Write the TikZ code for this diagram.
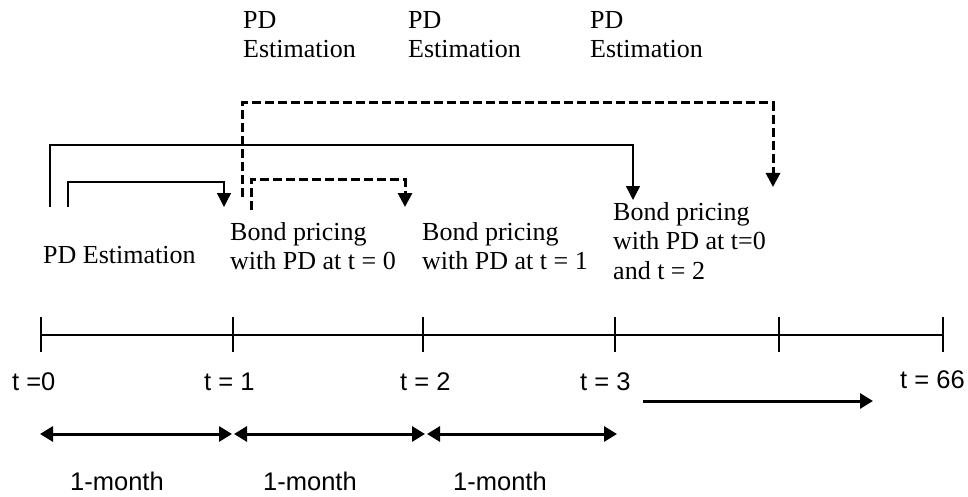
\documentclass[tikz,border=0pt]{standalone}
\usepackage{fontspec}
\setmainfont{Liberation Serif}
\setsansfont{Liberation Sans}
\usetikzlibrary{arrows.meta,calc}
\begin{document}
\begin{tikzpicture}[x=1pt,y=-1pt,
  serif/.style={font=\fontsize{26}{29.5}\selectfont, inner sep=0pt, align=left},
  sans/.style={font=\sffamily\fontsize{25.5}{28}\selectfont, inner sep=0pt},
  axisline/.style={line width=1.4pt},
  flow/.style={line width=1.4pt,-{Triangle[width=14pt,length=14pt]}},
  dflow/.style={line width=3pt,dash pattern=on 9pt off 4pt,-{Triangle[width=14pt,length=14pt]}},
  span/.style={line width=3pt,{Triangle[width=15pt,length=13pt]}-{Triangle[width=15pt,length=13pt]}},
  fwd/.style={line width=3pt,-{Triangle[width=15pt,length=13pt]}}
]
\useasboundingbox[fill=white] (0,0) rectangle (968,497);

% top labels
\node[serif,anchor=north west] (pd1) at (243,11) {PD\\Estimation};
\node[serif,anchor=north west] (pd2) at (408,11) {PD\\Estimation};
\node[serif,anchor=north west] (pd3) at (590,11) {PD\\Estimation};

% lower text labels
\node[serif,anchor=base west] (pd0) at (43,263) {PD Estimation};
\node[serif,anchor=north west] (b0) at (230,222) {Bond pricing\\with PD at t = 0};
\node[serif,anchor=north west] (b1) at (422,222) {Bond pricing\\with PD at t = 1};
\node[serif,anchor=north west] (b2) at (613,202) {Bond pricing\\with PD at t=0\\and t = 2};

% connector endpoints
\coordinate (s1) at (50,207);
\coordinate (e1) at (633,200);
\coordinate (s2) at (68,207);
\coordinate (e2) at (224,207);
\coordinate (s3) at (242,197);
\coordinate (e3) at (773,187);
\coordinate (s4) at (251,210);
\coordinate (e4) at (405,207);

\draw[flow] (s1) -- ++(0,-62) -| (e1);
\draw[flow] (s2) -- ++(0,-25) -| (e2);
\draw[dflow] (s3) -- ++(0,-94) -| (e3);
\draw[dflow] (s4) -- ++(0,-30) -| (e4);

% timeline
\coordinate (t0) at (41,335);
\coordinate (t1) at (233,335);
\coordinate (t2) at (423,335);
\coordinate (t3) at (615,335);
\coordinate (t4) at (779,335);
\coordinate (t5) at (943,335);
\draw[axisline] (t0) -- (t5);
\foreach \c in {t0,t1,t2,t3,t4,t5}
  \draw[axisline] ($(\c)+(0,-18)$) -- ($(\c)+(0,17)$);

\node[sans,anchor=base west] (l0) at (12,390) {t =0};
\node[sans,anchor=base west] (l1) at (204,390) {t = 1};
\node[sans,anchor=base west] (l2) at (400,390) {t = 2};
\node[sans,anchor=base west] (l3) at (580,390) {t = 3};
\node[sans,anchor=base west] (l5) at (900,388) {t = 66};

% month spans
\coordinate (m0) at (40,434);
\coordinate (m1) at (232,434);
\coordinate (m1b) at (234,434);
\coordinate (m2) at (425,434);
\coordinate (m2b) at (427,434);
\coordinate (m3) at (617,434);
\draw[span] (m0) -- (m1);
\draw[span] (m1b) -- (m2);
\draw[span] (m2b) -- (m3);

\coordinate (f0) at (643,401);
\coordinate (f1) at (873,401);
\draw[fwd] (f0) -- (f1);

\node[sans,anchor=base west] (n1) at (70,490) {1-month};
\node[sans,anchor=base west] (n2) at (263,490) {1-month};
\node[sans,anchor=base west] (n3) at (453,490) {1-month};
\end{tikzpicture}
\end{document}
